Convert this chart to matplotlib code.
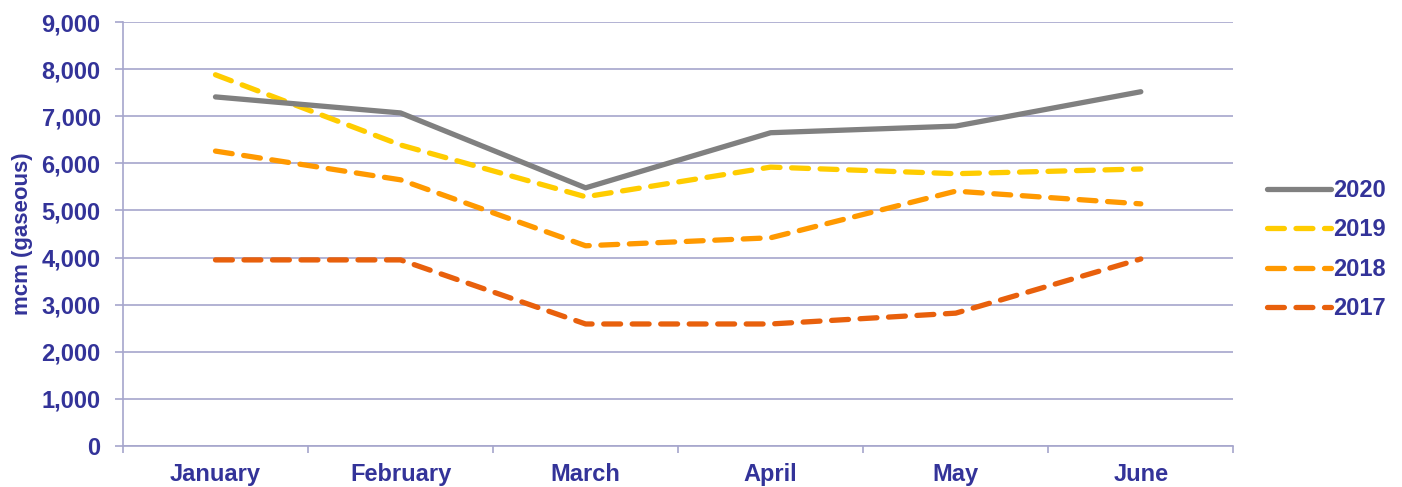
import matplotlib.pyplot as plt
import numpy as np
from matplotlib.ticker import FuncFormatter

# Data
months = ['January', 'February', 'March', 'April', 'May', 'June']
v2020 = [7410, 7070, 5480, 6650, 6790, 7520]
v2019 = [7880, 6390, 5290, 5920, 5780, 5880]
v2018 = [6260, 5650, 4250, 4420, 5410, 5140]
v2017 = [3950, 3950, 2590, 2590, 2820, 3970]

navy = '#333399'
gridc = '#A6A6CC'
plt.rcParams['font.family'] = ['Liberation Sans', 'DejaVu Sans']
plt.rcParams['font.weight'] = 'bold'

fig = plt.figure(figsize=(14.02, 4.87), dpi=100)
ax = fig.add_axes([0.0877, 0.0842, 0.792, 0.8706])

x = np.arange(len(months))
lw = 3.8
ax.plot(x, v2020, color='#808080', lw=lw, solid_capstyle='round', label='2020', zorder=5)
ax.plot(x, v2019, color='#FFCC00', lw=lw, dashes=(3.2, 2.2), dash_capstyle='round', label='2019', zorder=4)
ax.plot(x, v2018, color='#FF9900', lw=lw, dashes=(3.2, 2.2), dash_capstyle='round', label='2018', zorder=3)
ax.plot(x, v2017, color='#E8600C', lw=lw, dashes=(3.2, 2.2), dash_capstyle='round', label='2017', zorder=2)

ax.set_xlim(-0.5, 5.5)
ax.set_ylim(0, 9000)
ax.set_yticks(np.arange(0, 9001, 1000))
ax.yaxis.set_major_formatter(FuncFormatter(lambda v, p: f'{int(v):,}'))
ax.set_xticks(x)
ax.set_xticklabels(months)
ax.set_xticks(np.arange(-0.5, 6, 1), minor=True)
ax.tick_params(axis='x', which='major', length=0, pad=12, labelsize=17, labelcolor=navy)
ax.tick_params(axis='x', which='minor', length=5, color=gridc, width=1.2)
ax.tick_params(axis='y', length=6, color=gridc, width=1.2, labelsize=17, labelcolor=navy, pad=10)

ax.grid(axis='y', color=gridc, lw=1.2)
ax.set_axisbelow(True)
for s in ['top', 'right']:
    ax.spines[s].set_visible(False)
for s in ['left', 'bottom']:
    ax.spines[s].set_color(gridc)
    ax.spines[s].set_linewidth(1.2)

ax.set_ylabel('mcm (gaseous)', fontsize=16, fontweight='bold', color=navy, labelpad=6)

leg = ax.legend(loc='center left', bbox_to_anchor=(1.0306, 0.463), frameon=False,
                fontsize=17, handlelength=2.7, handletextpad=0.1, labelspacing=0.7,
                borderaxespad=0, borderpad=0)
for t in leg.get_texts():
    t.set_color(navy)

fig.savefig('out.png', dpi=100)
